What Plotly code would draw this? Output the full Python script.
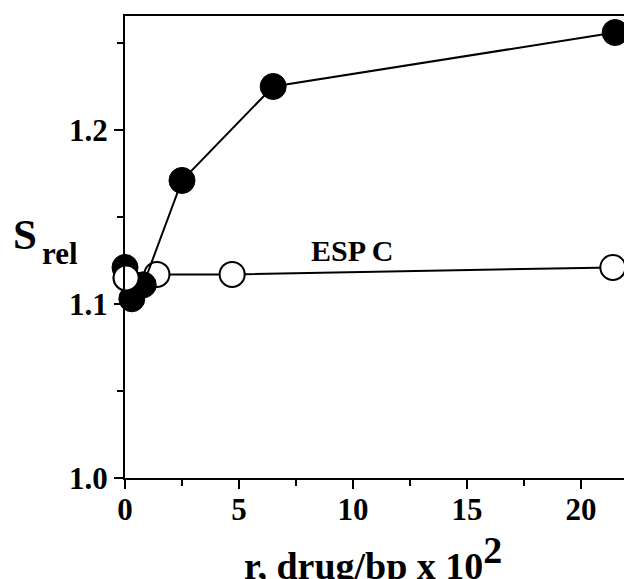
import plotly.graph_objects as go

# Data
filled_x = [0.0, 0.3, 0.8, 2.5, 6.5, 21.5]
filled_y = [1.121, 1.103, 1.111, 1.171, 1.225, 1.256]
open_x = [0.05, 1.4, 4.7, 21.4]
open_y = [1.115, 1.117, 1.117, 1.121]
x_ticks = [0, 5, 10, 15, 20]
y_ticks = [1.0, 1.1, 1.2]
y_tick_labels = ["1.0", "1.1", "1.2"]
series_label = "ESP C"

FONT = "Liberation Serif"

fig = go.Figure()

fig.add_trace(go.Scatter(
    x=open_x, y=open_y, mode="lines+markers", cliponaxis=False,
    line=dict(color="black", width=2),
    marker=dict(size=25, color="white", line=dict(color="black", width=2)),
    showlegend=False, hoverinfo="skip"))

fig.add_trace(go.Scatter(
    x=filled_x, y=filled_y, mode="lines+markers", cliponaxis=False,
    line=dict(color="black", width=2),
    marker=dict(size=26, color="black", line=dict(color="black", width=1)),
    showlegend=False, hoverinfo="skip"))

# first open point sits on top of the overlapping filled points
fig.add_trace(go.Scatter(
    x=open_x[:1], y=open_y[:1], mode="markers", cliponaxis=False,
    marker=dict(size=25, color="white", line=dict(color="black", width=2)),
    showlegend=False, hoverinfo="skip"))

fig.add_annotation(
    x=10, y=1.131, xref="x", yref="y", text=f"<b>{series_label}</b>",
    showarrow=False, font=dict(family=FONT, size=30, color="black"))

# y-axis label: S with subscript "rel"
fig.add_annotation(
    x=-0.222, y=0.528, xref="paper", yref="paper", xanchor="left", yanchor="middle",
    text="<b>S</b>", showarrow=False, font=dict(family=FONT, size=43, color="black"))
fig.add_annotation(
    x=-0.166, y=0.487, xref="paper", yref="paper", xanchor="left", yanchor="middle",
    text="<b>rel</b>", showarrow=False, font=dict(family=FONT, size=31, color="black"))

fig.add_annotation(
    x=0.482, y=-0.173, xref="paper", yref="paper", xanchor="center", yanchor="middle",
    text="<b>r, drug/bp x 10<sup><span style='font-size:38px'>2</span></sup></b>",
    showarrow=False, font=dict(family=FONT, size=38, color="black"))

# page body adds an 8px offset; margins compensate for it
fig.update_layout(
    width=632, height=579,
    margin=dict(l=117, r=0, t=8, b=109),
    paper_bgcolor="white", plot_bgcolor="white",
    font=dict(family=FONT, color="black"),
)

fig.update_xaxes(
    range=[0, 22.59], tickvals=x_ticks, ticks="outside", ticklen=9, tickwidth=2,
    tickcolor="black", showline=True, linewidth=2, linecolor="black", mirror=True,
    showgrid=False, zeroline=False, ticklabelstandoff=-6,
    tickfont=dict(family=FONT, size=31, color="black", weight="bold"),
    minor=dict(dtick=2.5, tick0=0, ticks="outside", ticklen=6, tickwidth=2,
               tickcolor="black", showgrid=False),
)

fig.update_yaxes(
    range=[1.0, 1.2655], tickvals=y_ticks, ticktext=y_tick_labels,
    ticks="outside", ticklen=9, tickwidth=2,
    tickcolor="black", showline=True, linewidth=2, linecolor="black", mirror=False,
    showgrid=False, zeroline=False,
    tickfont=dict(family=FONT, size=31, color="black", weight="bold"),
    minor=dict(dtick=0.05, tick0=1.0, ticks="outside", ticklen=6, tickwidth=2,
               tickcolor="black", showgrid=False),
)

fig.write_html("out.html")
